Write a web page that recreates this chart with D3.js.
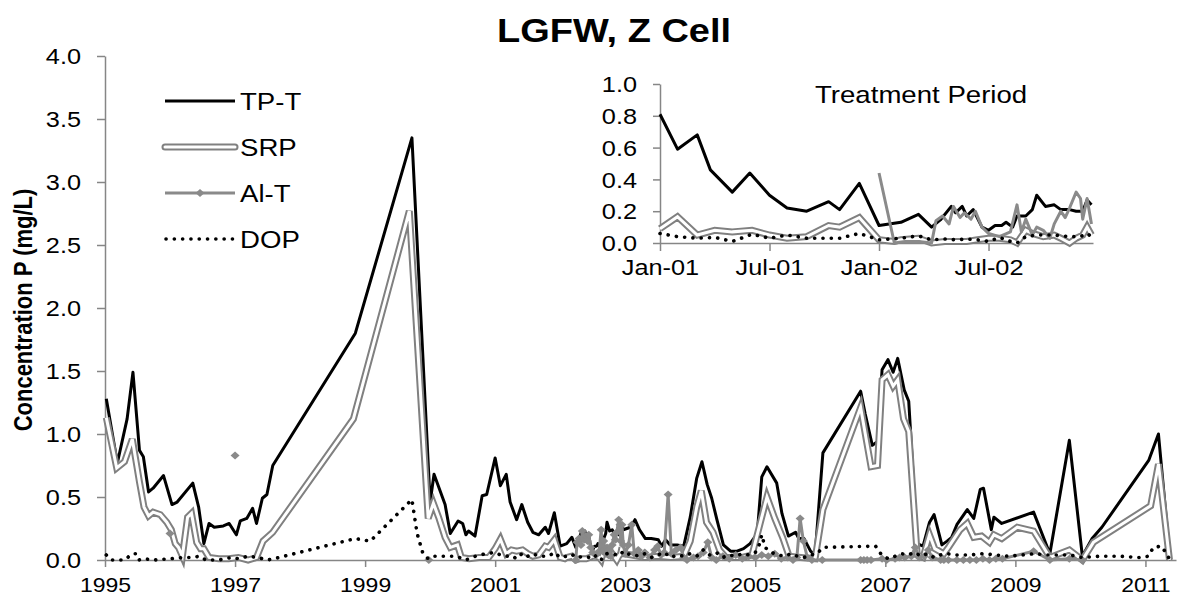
<!DOCTYPE html>
<html><head><meta charset="utf-8">
<script src="https://cdn.jsdelivr.net/npm/d3@7"></script>
<style>body{margin:0;background:#fff}svg{display:block}text{font-family:"Liberation Sans",Arial,sans-serif;fill:#000}</style>
</head><body><svg id="c" width="1178" height="603"></svg>
<script>
// ---------- data ----------
const chartTitle = "LGFW, Z Cell";
const yTitle = "Concentration P (mg/L)";
const insetTitle = "Treatment Period";
const seriesNames = ["TP-T", "SRP", "Al-T", "DOP"];
const xTickYears = [1995, 1997, 1999, 2001, 2003, 2005, 2007, 2009, 2011];
const yTicks = [0, 0.5, 1, 1.5, 2, 2.5, 3, 3.5, 4];
const insetXTicks = [2001, 2001.5, 2002, 2002.5];
const insetXLabels = ["Jan-01", "Jul-01", "Jan-02", "Jul-02"];
const insetYTicks = [0, 0.2, 0.4, 0.6, 0.8, 1.0];

const tpT = [[1995.02,1.28],[1995.19,0.77],[1995.34,1.12],[1995.43,1.49],[1995.53,0.87],[1995.59,0.82],[1995.67,0.54],[1995.74,0.57],[1995.90,0.67],[1996.03,0.44],[1996.11,0.46],[1996.35,0.61],[1996.44,0.42],[1996.52,0.13],[1996.60,0.29],[1996.68,0.26],[1996.82,0.27],[1996.91,0.29],[1997.02,0.20],[1997.08,0.31],[1997.18,0.33],[1997.27,0.41],[1997.33,0.29],[1997.42,0.49],[1997.49,0.52],[1997.58,0.75],[1998.85,1.80],[1999.72,3.35],[2000.00,0.46],[2000.06,0.68],[2000.23,0.44],[2000.31,0.21],[2000.43,0.31],[2000.50,0.29],[2000.55,0.20],[2000.59,0.23],[2000.69,0.19],[2000.80,0.51],[2000.87,0.52],
[2001.00,0.81],[2001.08,0.59],[2001.17,0.68],[2001.23,0.46],[2001.33,0.32],[2001.41,0.44],[2001.50,0.30],[2001.58,0.22],[2001.67,0.20],[2001.77,0.26],[2001.82,0.21],[2001.91,0.375],
[2002.00,0.11],[2002.10,0.13],[2002.18,0.18],[2002.24,0.10],[2002.28,0.145],[2002.33,0.23],[2002.35,0.19],[2002.38,0.23],[2002.40,0.17],[2002.43,0.21],[2002.47,0.10],[2002.50,0.08],[2002.53,0.11],[2002.56,0.11],[2002.58,0.13],[2002.61,0.10],[2002.63,0.17],[2002.67,0.17],[2002.70,0.21],[2002.72,0.30],[2002.76,0.23],[2002.80,0.24],[2002.83,0.21],[2002.87,0.21],[2002.90,0.20],[2002.93,0.20],[2002.95,0.27],[2002.97,0.24],
[2003.08,0.26],[2003.15,0.32],[2003.22,0.24],[2003.31,0.17],[2003.40,0.17],[2003.51,0.16],[2003.56,0.11],[2003.62,0.16],[2003.69,0.12],[2003.80,0.12],[2003.90,0.11],[2004.00,0.34],[2004.10,0.65],[2004.18,0.78],[2004.26,0.60],[2004.33,0.49],[2004.41,0.32],[2004.51,0.12],[2004.62,0.07],[2004.72,0.07],[2004.82,0.09],[2004.92,0.13],[2005.03,0.21],[2005.10,0.66],[2005.18,0.74],[2005.33,0.61],[2005.41,0.37],[2005.51,0.19],[2005.62,0.22],[2005.67,0.17],[2005.75,0.17],[2005.85,0.07],[2005.92,0.04],[2006.04,0.85],[2006.62,1.34],[2006.69,1.16],[2006.80,0.91],[2006.88,0.94],[2006.95,1.51],[2007.04,1.59],[2007.12,1.49],[2007.19,1.60],[2007.29,1.35],[2007.36,1.26],[2007.49,0.13],[2007.58,0.11],[2007.68,0.30],[2007.75,0.36],[2007.87,0.12],[2007.95,0.15],[2008.02,0.18],[2008.10,0.28],[2008.26,0.40],[2008.36,0.33],[2008.46,0.56],[2008.51,0.57],[2008.63,0.24],[2008.67,0.34],[2008.79,0.29],[2009.28,0.38],[2009.53,0.05],[2009.83,0.95],[2010.03,0.03],[2010.18,0.17],[2010.33,0.26],[2011.05,0.79],[2011.20,1.00],[2011.38,0.0]];

const srp = [[1995.02,1.13],[1995.18,0.73],[1995.30,0.78],[1995.42,0.96],[1995.53,0.62],[1995.60,0.42],[1995.67,0.35],[1995.74,0.38],[1995.85,0.36],[1995.95,0.30],[1996.02,0.24],[1996.08,0.13],[1996.13,0.10],[1996.19,0.03],[1996.27,0.34],[1996.33,0.37],[1996.41,0.14],[1996.47,0.09],[1996.52,0.09],[1996.60,0.02],[1996.75,0.01],[1996.90,0.01],[1997.05,0.02],[1997.20,0.0],[1997.33,0.02],[1997.43,0.15],[1997.58,0.22],[1998.82,1.12],[1999.68,2.77],[1999.97,0.33],[2000.05,0.45],[2000.13,0.34],[2000.23,0.18],[2000.31,0.10],[2000.42,0.12],[2000.48,0.02],[2000.60,0.01],[2000.75,0.02],[2000.90,0.02],
[2001.00,0.09],[2001.08,0.165],[2001.17,0.05],[2001.25,0.08],[2001.33,0.07],[2001.42,0.08],[2001.50,0.05],[2001.58,0.03],[2001.67,0.04],[2001.77,0.11],[2001.82,0.10],[2001.91,0.16],
[2002.00,0.02],[2002.07,0.01],[2002.10,0.02],[2002.18,0.03],[2002.24,0.0],[2002.30,0.01],[2002.40,0.01],[2002.45,0.02],[2002.50,0.03],[2002.55,0.03],[2002.60,0.02],[2002.63,0.0],[2002.67,0.08],[2002.70,0.06],[2002.75,0.04],[2002.80,0.05],[2002.83,0.03],[2002.87,0.0],[2002.90,0.03],[2002.93,0.05],[2002.95,0.10],[2002.97,0.05],
[2003.10,0.04],[2003.30,0.02],[2003.50,0.03],[2003.70,0.02],[2003.90,0.03],[2004.00,0.15],[2004.10,0.42],[2004.17,0.55],[2004.25,0.30],[2004.35,0.22],[2004.45,0.08],[2004.55,0.02],[2004.80,0.02],[2004.95,0.04],[2005.08,0.30],[2005.18,0.50],[2005.30,0.33],[2005.42,0.18],[2005.52,0.03],[2005.70,0.02],[2005.92,0.01],[2006.04,0.40],[2006.62,1.21],[2006.78,0.74],[2006.88,0.75],[2006.95,1.43],[2007.04,1.47],[2007.12,1.38],[2007.19,1.43],[2007.28,1.12],[2007.36,1.02],[2007.49,0.04],[2007.58,0.02],[2007.68,0.20],[2007.76,0.09],[2007.90,0.05],[2007.97,0.10],[2008.15,0.24],[2008.26,0.29],[2008.36,0.18],[2008.48,0.19],[2008.60,0.14],[2008.67,0.20],[2008.79,0.17],[2009.03,0.26],[2009.28,0.23],[2009.53,0.02],[2009.83,0.08],[2010.03,0.0],[2010.20,0.14],[2011.08,0.43],[2011.20,0.76],[2011.37,0.0]];

const alT = [[1996.00,0.21],[1996.5,null],[1997.00,0.83],[1998.0,null],[1999.98,0.0],[2001.0,null],
[2002.24,0.0],[2002.26,0.14],[2002.29,0.17],[2002.32,0.12],[2002.34,0.23],[2002.37,0.16],[2002.39,0.19],[2002.42,0.15],[2002.44,0.20],[2002.47,0.10],[2002.50,0.06],[2002.55,0.04],[2002.60,0.07],[2002.63,0.24],[2002.65,0.07],[2002.67,0.15],[2002.70,0.05],[2002.72,0.10],[2002.75,0.08],[2002.78,0.03],[2002.80,0.12],[2002.83,0.20],[2002.85,0.16],[2002.87,0.22],[2002.90,0.32],[2002.92,0.28],[2002.93,0.15],[2002.95,0.28],[2002.97,0.12],
[2003.00,0.05],[2003.05,0.12],[2003.10,0.28],[2003.14,0.05],[2003.20,0.08],[2003.25,0.03],[2003.30,0.06],[2003.38,0.02],[2003.45,0.08],[2003.50,0.11],[2003.55,0.04],[2003.60,0.06],[2003.66,0.52],[2003.71,0.05],[2003.78,0.08],[2003.85,0.10],[2003.90,0.02],[2003.95,0.0],[2004.05,0.02],[2004.12,0.03],[2004.20,0.06],[2004.27,0.14],[2004.33,0.02],[2004.40,0.0],[2004.50,0.03],[2004.60,0.01],[2004.70,0.04],[2004.80,0.01],[2004.90,0.03],[2005.00,0.02],[2005.10,0.04],[2005.20,0.03],[2005.30,0.05],[2005.40,0.01],[2005.50,0.02],[2005.58,0.0],[2005.64,0.02],[2005.69,0.33],[2005.74,0.15],[2005.80,0.02],[2005.87,0.0],[2006.03,0.0],[2006.62,0.0],[2006.67,0.0],[2006.72,0.0],[2006.78,0.0],[2006.95,0.01],[2007.02,0.0],[2007.15,0.01],[2007.22,0.02],[2007.30,0.02],[2007.40,0.03],[2007.46,0.10],[2007.52,0.02],[2007.60,0.03],[2007.66,0.08],[2007.72,0.02],[2007.85,0.0],[2007.90,0.0],[2007.97,0.0],[2008.10,0.0],[2008.20,0.0],[2008.30,0.0],[2008.40,0.0],[2008.50,0.01],[2008.60,0.0],[2008.70,0.01],[2008.80,0.01],[2009.28,0.07],[2009.53,0.0],[2009.83,0.01],[2010.03,0.0]];

const alTInsetStart = [[2002.00,0.44],[2002.07,0.0],[2002.12,0.01],[2002.18,0.01]];

const dop = [[1995.02,0.04],[1995.10,0.0],[1995.30,0.0],[1995.42,0.05],[1995.48,0.05],[1995.52,0.0],[1995.60,0.01],[1995.75,0.0],[1996.00,0.01],[1996.20,0.02],[1996.35,0.02],[1996.45,0.03],[1996.55,0.0],[1996.75,0.0],[1996.95,0.02],[1997.05,0.01],[1997.20,0.03],[1997.35,0.02],[1997.50,0.0],[1997.60,0.01],[1998.85,0.17],[1999.08,0.15],[1999.72,0.48],[1999.80,0.21],[1999.89,0.05],[1999.97,0.01],[2000.05,0.03],[2000.20,0.03],[2000.40,0.03],[2000.55,0.0],[2000.70,0.03],[2000.85,0.05],
[2001.00,0.06],[2001.08,0.04],[2001.17,0.03],[2001.25,0.035],[2001.33,0.01],[2001.42,0.055],[2001.50,0.03],[2001.58,0.05],[2001.67,0.03],[2001.77,0.03],[2001.82,0.03],[2001.91,0.06],[2002.00,0.02],[2002.10,0.03],[2002.18,0.045],[2002.24,0.02],[2002.30,0.025],[2002.35,0.02],[2002.40,0.025],[2002.45,0.02],[2002.50,0.01],[2002.55,0.035],[2002.60,0.01],[2002.63,0.0],[2002.67,0.04],[2002.72,0.05],[2002.80,0.05],[2002.87,0.04],[2002.92,0.04],[2002.95,0.06],[2002.97,0.04],
[2003.10,0.05],[2003.20,0.03],[2003.30,0.05],[2003.40,0.02],[2003.50,0.04],[2003.60,0.06],[2003.70,0.02],[2003.80,0.04],[2003.90,0.03],[2004.00,0.05],[2004.10,0.03],[2004.20,0.08],[2004.30,0.04],[2004.40,0.06],[2004.50,0.02],[2004.60,0.04],[2004.70,0.03],[2004.80,0.05],[2004.90,0.04],[2005.00,0.06],[2005.05,0.10],[2005.10,0.20],[2005.15,0.10],[2005.25,0.06],[2005.35,0.04],[2005.45,0.03],[2005.55,0.05],[2005.65,0.03],[2005.75,0.02],[2005.85,0.04],[2005.95,0.05],[2006.04,0.10],[2006.85,0.11],[2006.93,0.05],[2007.00,0.02],[2007.05,0.01],[2007.15,0.03],[2007.25,0.05],[2007.35,0.04],[2007.45,0.06],[2007.55,0.03],[2007.65,0.05],[2007.75,0.02],[2007.85,0.04],[2007.95,0.05],[2008.10,0.04],[2008.30,0.04],[2008.50,0.05],[2008.70,0.04],[2008.90,0.03],[2009.10,0.04],[2009.30,0.05],[2009.50,0.04],[2009.83,0.04],[2010.03,0.02],[2010.30,0.03],[2010.60,0.03],[2010.90,0.02],[2011.05,0.03],[2011.12,0.10],[2011.25,0.11],[2011.38,0.0]];

// ---------- drawing ----------
const SX = 1.15;           // horizontal text stretch seen in the reference
const AXIS = "#868686", GRAY = "#808080", ALGRAY = "#8a8a8a";
const svg = d3.select("#c");

function label(g, x, y, s, size, o = {}) {
  return g.append("text")
    .attr("transform", `translate(${x},${y}) scale(${SX},1)` + (o.rot ? ` rotate(${o.rot})` : ""))
    .attr("text-anchor", o.anchor || "start")
    .attr("font-size", size)
    .attr("font-weight", o.bold ? "bold" : "normal")
    .text(s);
}
const diamond = "M0,-4L4.5,0L0,4L-4.5,0Z";

function drawSeries(g, xs, ys, data) {
  const line = d3.line().defined(d => d[1] != null).x(d => xs(d[0])).y(d => ys(d[1]));
  const tp = data.tp, sr = data.srp, al = data.al, dp = data.dop;
  g.append("path").attr("d", line(tp)).attr("fill", "none").attr("stroke", "#000").attr("stroke-width", 3).attr("stroke-linejoin", "round");
  g.append("path").attr("d", line(sr)).attr("fill", "none").attr("stroke", GRAY).attr("stroke-width", 7);
  g.append("path").attr("d", line(sr)).attr("fill", "none").attr("stroke", "#fff").attr("stroke-width", 3);
  g.append("path").attr("d", line(al)).attr("fill", "none").attr("stroke", ALGRAY).attr("stroke-width", 3).attr("stroke-linejoin", "round");
  if (data.markers) {
    g.selectAll(null).data(al.filter(d => d[1] != null)).enter().append("path")
      .attr("d", diamond).attr("fill", ALGRAY)
      .attr("transform", d => `translate(${xs(d[0])},${ys(d[1])})`);
  }
  g.append("path").attr("d", line(dp)).attr("fill", "none").attr("stroke", "#000").attr("stroke-width", 3.6)
    .attr("stroke-linecap", "round").attr("stroke-dasharray", "0.1 8.2");
}

// main chart
const x = d3.scaleLinear().domain([1995, 2011.47]).range([105, 1176]);
const y = d3.scaleLinear().domain([0, 4]).range([560, 56]);

const gy = svg.append("g").attr("transform", "translate(105,0)")
  .call(d3.axisLeft(y).tickValues(yTicks).tickSize(8).tickSizeOuter(0).tickFormat(d3.format(".1f")));
gy.select(".domain").attr("stroke", AXIS).attr("stroke-width", 1.5);
gy.selectAll(".tick line").attr("stroke", AXIS).attr("stroke-width", 1.5);
gy.selectAll(".tick text").attr("x", null).attr("dy", "0.35em").attr("font-size", 22)
  .attr("transform", `translate(-24,0) scale(${SX},1)`);

const gx = svg.append("g").attr("transform", "translate(0,560)")
  .call(d3.axisBottom(x).tickValues(xTickYears).tickSize(7).tickSizeOuter(0).tickFormat(d3.format("d")));
gx.select(".domain").attr("stroke", AXIS).attr("stroke-width", 1.5);
gx.selectAll(".tick line").attr("stroke", AXIS).attr("stroke-width", 1.5);
gx.selectAll(".tick text").attr("y", null).attr("dy", null).attr("font-size", 20)
  .attr("transform", `translate(0,32) scale(${SX},1)`);

drawSeries(svg.append("g"), x, y, {tp: tpT, srp: srp, al: alT, dop: dop, markers: true});

label(svg, 614, 42, chartTitle, 33, {anchor: "middle", bold: true});
label(svg, 32, 310, yTitle, 22, {anchor: "middle", bold: true, rot: -90});

// legend
const lg = svg.append("g");
const legY = [101, 147, 193, 239];
lg.append("line").attr("x1", 165).attr("x2", 235).attr("y1", legY[0]).attr("y2", legY[0]).attr("stroke", "#000").attr("stroke-width", 3);
lg.append("line").attr("x1", 165).attr("x2", 235).attr("y1", legY[1]).attr("y2", legY[1]).attr("stroke", GRAY).attr("stroke-width", 7).attr("stroke-linecap", "round");
lg.append("line").attr("x1", 165).attr("x2", 235).attr("y1", legY[1]).attr("y2", legY[1]).attr("stroke", "#fff").attr("stroke-width", 3).attr("stroke-linecap", "round");
lg.append("line").attr("x1", 165).attr("x2", 235).attr("y1", legY[2]).attr("y2", legY[2]).attr("stroke", ALGRAY).attr("stroke-width", 3);
lg.append("path").attr("d", diamond).attr("fill", ALGRAY).attr("transform", `translate(200,${legY[2]})`);
lg.append("line").attr("x1", 166).attr("x2", 235).attr("y1", legY[3]).attr("y2", legY[3]).attr("stroke", "#000").attr("stroke-width", 3.6).attr("stroke-linecap", "round").attr("stroke-dasharray", "0.1 8.2");
seriesNames.forEach((n, i) => label(lg, 240, legY[i] + 9, n, 24));

// inset
const xi = d3.scaleLinear().domain([2001, 2002.977]).range([660, 1093]);
const yi = d3.scaleLinear().domain([0, 1]).range([243, 84]);
const inRange = d => d[0] >= 2001 && d[0] <= 2002.98;

const giy = svg.append("g").attr("transform", "translate(660,0)")
  .call(d3.axisLeft(yi).tickValues(insetYTicks).tickSize(7).tickSizeOuter(0).tickFormat(d3.format(".1f")));
giy.select(".domain").attr("stroke", AXIS).attr("stroke-width", 1.5);
giy.selectAll(".tick line").attr("stroke", AXIS).attr("stroke-width", 1.5);
giy.selectAll(".tick text").attr("x", null).attr("dy", "0.35em").attr("font-size", 22)
  .attr("transform", `translate(-23,0) scale(${SX},1)`);

const gix = svg.append("g").attr("transform", "translate(0,243)")
  .call(d3.axisBottom(xi).tickValues(insetXTicks).tickSize(8).tickSizeOuter(0).tickFormat((d, i) => insetXLabels[i]));
gix.select(".domain").attr("stroke", AXIS).attr("stroke-width", 1.5);
gix.selectAll(".tick line").attr("stroke", AXIS).attr("stroke-width", 1.5);
gix.selectAll(".tick text").attr("y", null).attr("dy", null).attr("font-size", 22)
  .attr("transform", `translate(0,32) scale(${SX},1)`);

const insetAl = alTInsetStart.concat(alT.filter(d => d[0] >= 2002.2 && d[0] <= 2002.98));
drawSeries(svg.append("g"), xi, yi, {
  tp: tpT.filter(inRange), srp: srp.filter(inRange), al: insetAl, dop: dop.filter(inRange), markers: false
});
label(svg, 815, 103, insetTitle, 24);
</script></body></html>
